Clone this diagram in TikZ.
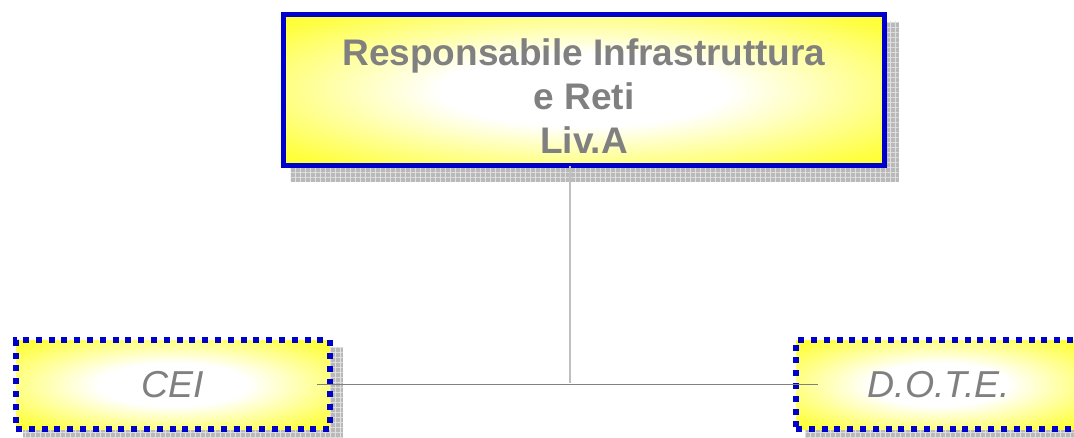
\documentclass[tikz,border=0pt]{standalone}
\usepackage{fontspec}
\setmainfont{Liberation Sans}
\usetikzlibrary{positioning,backgrounds,patterns.meta}
\definecolor{boxblue}{RGB}{0,0,204}
\definecolor{textgray}{RGB}{128,128,128}
\pgfdeclareradialshading{yellowglow}{\pgfpoint{0bp}{0bp}}{%
  color(0bp)=(white); color(12bp)=(white); color(32bp)=(yellow!75!white);
  color(45bp)=(yellow); color(50bp)=(yellow)}
\tikzset{
  headbox/.style={rectangle, draw=boxblue, line width=5.5pt, shading=yellowglow,
    outer sep=0pt, inner sep=0pt, text=textgray, align=center,
    font=\fontsize{37}{44}\selectfont\bfseries},
  unitbox/.style={rectangle, draw=boxblue, line width=6pt, dash pattern=on 6pt off 6.8pt,
    shading=yellowglow, outer sep=0pt, minimum height=89pt, text=textgray,
    font=\fontsize{37.5}{44}\selectfont\itshape},
  shadowbox/.style={fill=gray!55,
    postaction={pattern={Lines[angle=0,distance=5pt,line width=0.6pt]}, pattern color=gray!25},
    postaction={pattern={Lines[angle=90,distance=5pt,line width=0.6pt]}, pattern color=gray!25}},
  feeder/.style={draw=gray!50, line width=1.2pt},
  busline/.style={draw=gray, line width=1.5pt}
}

\begin{document}
\begin{tikzpicture}[x=1pt,y=-1pt]
\useasboundingbox (0,0) rectangle (1074,437);
% boxes
\node[headbox, minimum width=601pt, minimum height=151pt] (chief) at (584,90)
  {\rule{0pt}{38pt}Responsabile Infrastruttura\\e Reti\\Liv.A};
\node[unitbox, minimum width=314pt] (cei) at (173,384.5) {CEI};
\node[unitbox, minimum width=286pt] (dote) at (939,384.5) {D.O.T.E.};
% shadows
\begin{scope}[on background layer]
\path[shadowbox] ([shift={(7,7)}]chief.north west) rectangle ([shift={(14,16)}]chief.south east);
\path[shadowbox] ([shift={(7,7)}]cei.north west) rectangle ([shift={(13,13)}]cei.south east);
\path[shadowbox] ([shift={(9,7)}]dote.north west) rectangle ([shift={(13,13)}]dote.south east);
\end{scope}
% connectors
\coordinate (junction) at (570,383);
\draw[feeder] (chief.south -| junction) -- (junction);
\draw[busline] ([xshift=-13pt]cei.east) -- ([xshift=22pt]dote.west);
\end{tikzpicture}
\end{document}
